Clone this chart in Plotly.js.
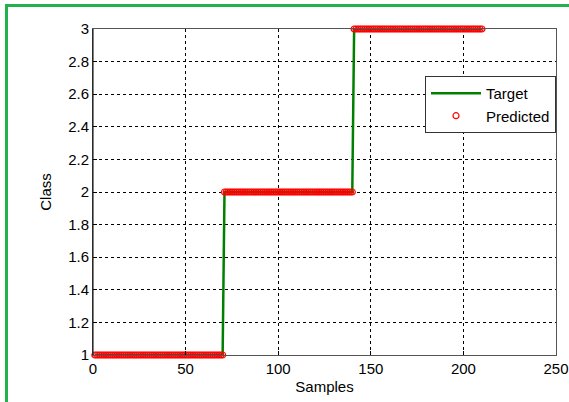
<!DOCTYPE html>
<html>
<head>
<meta charset="utf-8">
<script src="https://cdn.plot.ly/plotly-3.0.1.min.js"></script>
<style>
  html, body { margin: 0; padding: 0; background: #fff; }
  #wrap { position: relative; width: 569px; height: 402px; overflow: hidden; }
  #chart { position: absolute; left: 0; top: 0; width: 569px; height: 402px; }
  #frame { position: absolute; left: 5px; top: 4px; width: 600px; height: 450px;
           border-top: 3px solid #22b14c; border-left: 3px solid #22b14c; pointer-events: none; }
</style>
</head>
<body>
<div id="wrap">
  <div id="chart"></div>
  <div id="frame"></div>
</div>
<script>
// Sample indices 1..210
const samples = [
  1,2,3,4,5,6,7,8,9,10,11,12,13,14,15,16,17,18,19,20,21,22,23,24,25,26,27,28,29,30,
  31,32,33,34,35,36,37,38,39,40,41,42,43,44,45,46,47,48,49,50,51,52,53,54,55,56,57,58,59,60,
  61,62,63,64,65,66,67,68,69,70,71,72,73,74,75,76,77,78,79,80,81,82,83,84,85,86,87,88,89,90,
  91,92,93,94,95,96,97,98,99,100,101,102,103,104,105,106,107,108,109,110,111,112,113,114,115,116,117,118,119,120,
  121,122,123,124,125,126,127,128,129,130,131,132,133,134,135,136,137,138,139,140,141,142,143,144,145,146,147,148,149,150,
  151,152,153,154,155,156,157,158,159,160,161,162,163,164,165,166,167,168,169,170,171,172,173,174,175,176,177,178,179,180,
  181,182,183,184,185,186,187,188,189,190,191,192,193,194,195,196,197,198,199,200,201,202,203,204,205,206,207,208,209,210
];
// Target class per sample
const target = [
  1,1,1,1,1,1,1,1,1,1,1,1,1,1,1,1,1,1,1,1,1,1,1,1,1,1,1,1,1,1,
  1,1,1,1,1,1,1,1,1,1,1,1,1,1,1,1,1,1,1,1,1,1,1,1,1,1,1,1,1,1,
  1,1,1,1,1,1,1,1,1,1,2,2,2,2,2,2,2,2,2,2,2,2,2,2,2,2,2,2,2,2,
  2,2,2,2,2,2,2,2,2,2,2,2,2,2,2,2,2,2,2,2,2,2,2,2,2,2,2,2,2,2,
  2,2,2,2,2,2,2,2,2,2,2,2,2,2,2,2,2,2,2,2,3,3,3,3,3,3,3,3,3,3,
  3,3,3,3,3,3,3,3,3,3,3,3,3,3,3,3,3,3,3,3,3,3,3,3,3,3,3,3,3,3,
  3,3,3,3,3,3,3,3,3,3,3,3,3,3,3,3,3,3,3,3,3,3,3,3,3,3,3,3,3,3
];
// Predicted class per sample
const predicted = [
  1,1,1,1,1,1,1,1,1,1,1,1,1,1,1,1,1,1,1,1,1,1,1,1,1,1,1,1,1,1,
  1,1,1,1,1,1,1,1,1,1,1,1,1,1,1,1,1,1,1,1,1,1,1,1,1,1,1,1,1,1,
  1,1,1,1,1,1,1,1,1,1,2,2,2,2,2,2,2,2,2,2,2,2,2,2,2,2,2,2,2,2,
  2,2,2,2,2,2,2,2,2,2,2,2,2,2,2,2,2,2,2,2,2,2,2,2,2,2,2,2,2,2,
  2,2,2,2,2,2,2,2,2,2,2,2,2,2,2,2,2,2,2,2,3,3,3,3,3,3,3,3,3,3,
  3,3,3,3,3,3,3,3,3,3,3,3,3,3,3,3,3,3,3,3,3,3,3,3,3,3,3,3,3,3,
  3,3,3,3,3,3,3,3,3,3,3,3,3,3,3,3,3,3,3,3,3,3,3,3,3,3,3,3,3,3
];
const xTickVals = [0, 50, 100, 150, 200, 250];
const xTickText = ["0", "50", "100", "150", "200", "250"];
const yTickVals = [1, 1.2, 1.4, 1.6, 1.8, 2, 2.2, 2.4, 2.6, 2.8, 3];
const yTickText = ["1", "1.2", "1.4", "1.6", "1.8", "2", "2.2", "2.4", "2.6", "2.8", "3"];

const font = "Liberation Sans, Arial, sans-serif";

const traces = [
  {
    x: samples, y: target, name: "Target", type: "scatter", mode: "lines",
    line: { color: "#008000", width: 2.5 }, cliponaxis: false
  },
  {
    x: samples, y: predicted, name: "Predicted", type: "scatter", mode: "markers",
    marker: { symbol: "circle-open", size: 6, color: "#ff0000", line: { width: 1.2, color: "#ff0000" } },
    cliponaxis: false
  }
];

const layout = {
  width: 569, height: 402,
  margin: { l: 93, r: 13, t: 29, b: 47 },
  paper_bgcolor: "#ffffff", plot_bgcolor: "#ffffff",
  font: { family: font, size: 15, color: "#000" },
  showlegend: true,
  legend: {
    x: 1, xanchor: "right", y: 0.856, yanchor: "top",
    bgcolor: "#ffffff", bordercolor: "#333", borderwidth: 1,
    font: { family: font, size: 15, color: "#000" },
    tracegroupgap: 0, itemwidth: 50
  },
  xaxis: {
    range: [0, 250], tickvals: xTickVals, ticktext: xTickText,
    showgrid: true, gridcolor: "#000", gridwidth: 1, griddash: "3px,3px",
    zeroline: false, showline: true, linecolor: "#555", linewidth: 1, mirror: true,
    ticks: "inside", ticklen: 4, tickcolor: "#000",
    tickfont: { family: font, size: 15 },
    title: { text: "Samples", font: { family: font, size: 15 }, standoff: 5 }
  },
  yaxis: {
    range: [1, 3], tickvals: yTickVals, ticktext: yTickText,
    showgrid: true, gridcolor: "#000", gridwidth: 1, griddash: "3px,3px",
    zeroline: false, showline: true, linecolor: "#555", linewidth: 1, mirror: true,
    ticks: "inside", ticklen: 4, tickcolor: "#000",
    tickfont: { family: font, size: 15 },
    title: { text: "Class", font: { family: font, size: 15 }, standoff: 12 }
  },
  shapes: [
    { type: "line", xref: "paper", yref: "paper", x0: 0, x1: 0, y0: 0, y1: 1,
      line: { color: "#000", width: 1 } }
  ]
};

Plotly.newPlot("chart", traces, layout, { displayModeBar: false, staticPlot: true });
</script>
</body>
</html>
